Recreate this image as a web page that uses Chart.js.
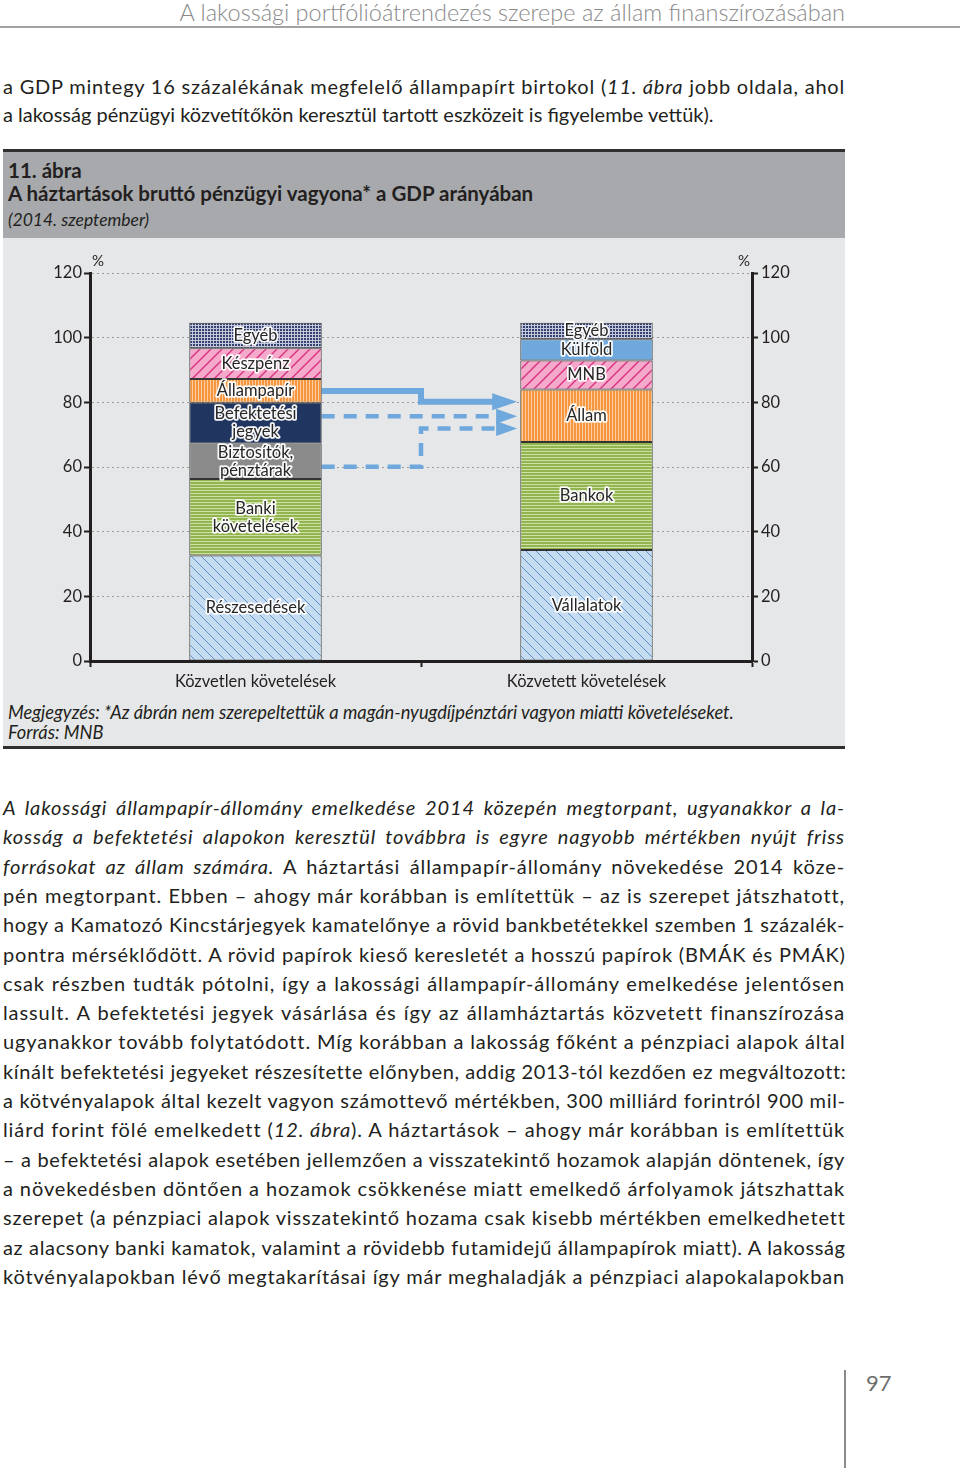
<!DOCTYPE html>
<html lang="hu">
<head>
<meta charset="utf-8">
<title>11. ábra – A háztartások bruttó pénzügyi vagyona</title>
<script src="https://cdn.jsdelivr.net/npm/chart.js@4.4.1/dist/chart.umd.min.js"></script>
<style>
  html, body { margin: 0; padding: 0; background: #fff; }
  body { width: 960px; height: 1468px; position: relative; overflow: hidden;
         font-family: Lato, 'Open Sans', sans-serif; color: #231f20; }
  .runhead { position: absolute; right: 115px; top: -2px; font-size: 23.5px; font-weight: 300;
             color: #8a8a8a; line-height: 28px; white-space: nowrap; }
  .rule { position: absolute; left: 0; width: 960px; top: 26px; height: 2px; background: #a3a3a3; }
  .ln { position: absolute; left: 3px; width: 842px; font-size: 20px; line-height: 29.3px;
        white-space: nowrap; }
  .box-top { position: absolute; left: 3px; width: 842px; top: 149px; height: 3px; background: #2f2f2f; }
  .box-head { position: absolute; left: 3px; width: 842px; top: 152px; height: 86px; background: #a7a9ac; }
  .box-body { position: absolute; left: 3px; width: 842px; top: 238px; height: 508px; background: #e6e7e8; }
  .box-bottom { position: absolute; left: 3px; width: 842px; top: 746px; height: 3px; background: #2f2f2f; }
  .cap { position: absolute; left: 5px; white-space: nowrap; }
  .cap.b { font-weight: 700; font-size: 20.5px; line-height: 24px; }
  .cap.i { font-style: italic; font-size: 17.5px; line-height: 22px; }
  .note { position: absolute; left: 5px; font-style: italic; font-size: 18.3px; line-height: 20px; white-space: nowrap; }
  canvas#chart { position: absolute; left: 0; top: 0; }
  .pageno { position: absolute; left: 866px; top: 1369px; font-size: 22px; color: #6d6d6d; }
  .vrule { position: absolute; left: 844px; top: 1370px; width: 2px; height: 98px; background: #8a8a8a; }
</style>
</head>
<body>
<div class="runhead">A lakossági portfólióátrendezés szerepe az állam finanszírozásában</div>
<div class="rule"></div>

<div class="ln" data-j="1" style="top:72px"><span>a GDP mintegy 16 százalékának megfelelő állampapírt birtokol (<i>11. ábra</i> jobb oldala, ahol</span></div>
<div class="ln" style="top:100px"><span>a lakosság pénzügyi közvetítőkön keresztül tartott eszközeit is figyelembe vettük).</span></div>

<div class="box-top"></div>
<div class="box-head">
  <div class="cap b" style="top:6px">11. ábra</div>
  <div class="cap b" style="top:29px">A háztartások bruttó pénzügyi vagyona* a GDP arányában</div>
  <div class="cap i" style="top:57px">(2014. szeptember)</div>
</div>
<div class="box-body">
  <canvas id="chart" width="842" height="462"></canvas>
  <div class="note" style="top:464px">Megjegyzés: *Az ábrán nem szerepeltettük a magán-nyugdíjpénztári vagyon miatti követeléseket.</div>
  <div class="note" style="top:484px">Forrás: MNB</div>
</div>
<div class="box-bottom"></div>

<div id="p2"></div>

<div class="vrule"></div>
<div class="pageno">97</div>

<script>
// ---- body text (one entry per printed line) ----
const p2Lines = [
  '<i>A lakossági állampapír-állomány emelkedése 2014 közepén megtorpant, ugyanakkor a la-</i>',
  '<i>kosság a befektetési alapokon keresztül továbbra is egyre nagyobb mértékben nyújt friss</i>',
  '<i>forrásokat az állam számára.</i> A háztartási állampapír-állomány növekedése 2014 köze-',
  'pén megtorpant. Ebben – ahogy már korábban is említettük – az is szerepet játszhatott,',
  'hogy a Kamatozó Kincstárjegyek kamatelőnye a rövid bankbetétekkel szemben 1 százalék-',
  'pontra mérséklődött. A rövid papírok kieső keresletét a hosszú papírok (BMÁK és PMÁK)',
  'csak részben tudták pótolni, így a lakossági állampapír-állomány emelkedése jelentősen',
  'lassult. A befektetési jegyek vásárlása és így az államháztartás közvetett finanszírozása',
  'ugyanakkor tovább folytatódott. Míg korábban a lakosság főként a pénzpiaci alapok által',
  'kínált befektetési jegyeket részesítette előnyben, addig 2013-tól kezdően ez megváltozott:',
  'a kötvényalapok által kezelt vagyon számottevő mértékben, 300 milliárd forintról 900 mil-',
  'liárd forint fölé emelkedett (<i>12. ábra</i>). A háztartások – ahogy már korábban is említettük',
  '– a befektetési alapok esetében jellemzően a visszatekintő hozamok alapján döntenek, így',
  'a növekedésben döntően a hozamok csökkenése miatt emelkedő árfolyamok játszhattak',
  'szerepet (a pénzpiaci alapok visszatekintő hozama csak kisebb mértékben emelkedhetett',
  'az alacsony banki kamatok, valamint a rövidebb futamidejű állampapírok miatt). A lakosság',
  'kötvényalapokban lévő megtakarításai így már meghaladják a pénzpiaci alapokalapokban'
];
const p2 = document.getElementById('p2');
p2Lines.forEach((t, i) => {
  const d = document.createElement('div');
  d.className = 'ln';
  d.dataset.j = '1';
  d.style.top = (793 + i * 29.3) + 'px';
  d.innerHTML = '<span>' + t + '</span>';
  p2.appendChild(d);
});
// fit each printed line: squeeze if too long, spread letters then words if justified
document.querySelectorAll('.ln').forEach(el => {
  const sp = el.firstElementChild;
  const w = sp.getBoundingClientRect().width;
  const max = el.clientWidth;
  if (w > max) {
    el.style.width = w + 'px';
    el.style.transformOrigin = 'left top';
    el.style.transform = 'scaleX(' + (max / w) + ')';
  } else if (el.dataset.j) {
    const n = sp.textContent.length;
    const ls = Math.min(0.9, (max - w) / n);
    el.style.letterSpacing = ls + 'px';
    el.style.textAlign = 'justify';
    el.style.textAlignLast = 'justify';
  }
});

// ---- chart data ----
const categories = ['Közvetlen követelések', 'Közvetett követelések'];

const directNames = ['Részesedések', 'Banki\nkövetelések', 'Biztosítók,\npénztárak',
  'Befektetési\njegyek', 'Állampapír', 'Készpénz', 'Egyéb'];
const directValues = [32.6, 23.7, 11.0, 12.6, 7.3, 9.5, 7.9];

const indirectNames = ['Vállalatok', 'Bankok', 'Állam', 'MNB', 'Külföld', 'Egyéb'];
const indirectValues = [34.3, 33.4, 16.3, 8.9, 6.6, 5.1];

// arrows: x in category units (0 = first bar, 1 = second bar), y in % of GDP
const arrowSolidX = [0.2, 0.5, 0.5, 0.718];
const arrowSolidY = [83.5, 83.5, 80.2, 80.2];
const arrowDash1X = [0.2, 0.73];
const arrowDash1Y = [75.7, 75.7];
const arrowDash2X = [0.2, 0.5, 0.5, 0.73];
const arrowDash2Y = [60.1, 60.1, 71.9, 71.9];

// ---- fills ----
function makePattern(w, h, draw) {
  const c = document.createElement('canvas');
  c.width = w; c.height = h;
  const g = c.getContext('2d');
  draw(g, w, h);
  return g.createPattern(c, 'repeat');
}
const hatchBlue = makePattern(10, 10, (g, w, h) => {
  g.fillStyle = '#c6dcf1'; g.fillRect(0, 0, w, h);
  g.strokeStyle = '#5f8fc6'; g.lineWidth = 1;
  g.beginPath();
  g.moveTo(-1, -1); g.lineTo(w + 1, h + 1);
  g.moveTo(-1, h - 1); g.lineTo(1, h + 1);
  g.moveTo(w - 1, -1); g.lineTo(w + 1, 1);
  g.stroke();
});
const greenStripe = makePattern(4, 3, (g, w, h) => {
  g.fillStyle = '#93b54f'; g.fillRect(0, 0, w, h);
  g.fillStyle = '#cde0a6'; g.fillRect(0, 0, w, 1);
});
const orangeStripe = makePattern(3, 4, (g, w, h) => {
  g.fillStyle = '#f6973f'; g.fillRect(0, 0, w, h);
  g.fillStyle = '#fccda0'; g.fillRect(0, 0, 1, h);
});
const pinkHatch = makePattern(11, 11, (g, w, h) => {
  g.fillStyle = '#f5aacb'; g.fillRect(0, 0, w, h);
  g.strokeStyle = '#d8317f'; g.lineWidth = 1.4;
  g.beginPath();
  g.moveTo(-1, h + 1); g.lineTo(w + 1, -1);
  g.moveTo(-1, 1); g.lineTo(1, -1);
  g.moveTo(w - 1, h + 1); g.lineTo(w + 1, h - 1);
  g.stroke();
});
const navyGrid = makePattern(3, 3, (g, w, h) => {
  g.fillStyle = '#34416f'; g.fillRect(0, 0, w, h);
  g.fillStyle = '#c3c8dc'; g.fillRect(0, 0, w, 1); g.fillRect(0, 0, 1, h);
});

const directFill = [hatchBlue, greenStripe, '#8b8b8b', '#213561', orangeStripe, pinkHatch, navyGrid];
const indirectFill = [hatchBlue, greenStripe, orangeStripe, pinkHatch, '#6fa8dc', navyGrid];
const arrowColor = '#6fa8dc';

const barCommon = {
  borderColor: '#333',
  borderWidth: 1,
  borderSkipped: false,
  grouped: false,
  barPercentage: 1,
  categoryPercentage: 0.4
};

const datasets = [];
directValues.forEach((v, i) => {
  datasets.push(Object.assign({ label: directNames[i], data: [v, null], backgroundColor: directFill[i] }, barCommon));
});
indirectValues.forEach((v, i) => {
  datasets.push(Object.assign({ label: indirectNames[i], data: [null, v], backgroundColor: indirectFill[i] }, barCommon));
});

function arrowSet(xs, ys, width, dash, head) {
  return {
    type: 'line',
    label: 'arrow',
    data: xs.map((x, i) => ({ x: x, y: ys[i] })),
    xAxisID: 'xl',
    yAxisID: 'y2',
    borderColor: arrowColor,
    borderWidth: width,
    borderDash: dash,
    borderCapStyle: 'butt',
    borderJoinStyle: 'miter',
    pointRadius: 0,
    fill: false,
    tension: 0,
    arrowHead: head
  };
}
datasets.push(arrowSet(arrowSolidX, arrowSolidY, 6, [], { len: 24, half: 8.5 }));
datasets.push(arrowSet(arrowDash1X, arrowDash1Y, 4.5, [13, 9], { len: 20, half: 7.5 }));
datasets.push(arrowSet(arrowDash2X, arrowDash2Y, 4.5, [13, 9], { len: 20, half: 7.5 }));

const FONT = 'Lato, "Open Sans", sans-serif';

// segment labels, arrow heads and the % signs
const decorPlugin = {
  id: 'decor',
  afterDatasetsDraw(chart) {
    const ctx = chart.ctx;
    ctx.save();
    chart.data.datasets.forEach((ds, i) => {
      const meta = chart.getDatasetMeta(i);
      if (ds.arrowHead) {
        const last = meta.data[meta.data.length - 1];
        ctx.fillStyle = arrowColor;
        ctx.beginPath();
        ctx.moveTo(last.x - 1, last.y - ds.arrowHead.half);
        ctx.lineTo(last.x + ds.arrowHead.len, last.y);
        ctx.lineTo(last.x - 1, last.y + ds.arrowHead.half);
        ctx.closePath();
        ctx.fill();
        return;
      }
      if (meta.type !== 'bar') return;
      meta.data.forEach((el, j) => {
        if (ds.data[j] == null) return;
        const lines = ds.label.split('\n');
        const cy = (el.y + el.base) / 2;
        const lh = 18;
        ctx.font = '16.5px ' + FONT;
        ctx.textAlign = 'center';
        ctx.textBaseline = 'middle';
        ctx.lineJoin = 'round';
        lines.forEach((t, k) => {
          const y = cy + (k - (lines.length - 1) / 2) * lh;
          ctx.lineWidth = 3.5;
          ctx.strokeStyle = 'rgba(255,255,255,0.95)';
          ctx.strokeText(t, el.x, y);
          ctx.fillStyle = '#262626';
          ctx.fillText(t, el.x, y);
        });
      });
    });
    const a = chart.chartArea;
    ctx.font = '15px ' + FONT;
    ctx.fillStyle = '#231f20';
    ctx.textBaseline = 'middle';
    ctx.textAlign = 'left';
    ctx.fillText('%', a.left + 2, a.top - 12);
    ctx.textAlign = 'right';
    ctx.fillText('%', a.right - 2, a.top - 12);
    ctx.restore();
  }
};

const tickFont = { family: FONT, size: 16.5 };

new Chart(document.getElementById('chart'), {
  type: 'bar',
  data: { labels: categories, datasets: datasets },
  options: {
    responsive: false,
    animation: false,
    devicePixelRatio: 1,
    layout: { padding: { top: 35, left: 0, right: 0, bottom: 0 } },
    plugins: { legend: { display: false }, tooltip: { enabled: false } },
    scales: {
      x: {
        stacked: true,
        offset: true,
        grid: { offset: true, drawOnChartArea: false, drawTicks: true, tickLength: 6, tickColor: '#231f20', tickWidth: 2 },
        border: { color: '#231f20', width: 3 },
        ticks: { font: tickFont, color: '#231f20', padding: 5 },
        afterFit: s => { s.height = 39; }
      },
      y: {
        stacked: true,
        position: 'left',
        min: 0, max: 120,
        ticks: { stepSize: 20, font: tickFont, color: '#231f20', padding: 2 },
        grid: { color: '#9d9d9d', lineWidth: 1, tickColor: '#231f20', tickLength: 6, tickWidth: 2 },
        border: { color: '#231f20', width: 3, dash: [2, 3] },
        afterFit: s => { s.width = 87; }
      },
      y1: {
        position: 'right',
        min: 0, max: 120,
        ticks: { stepSize: 20, font: tickFont, color: '#231f20', padding: 3 },
        grid: { drawOnChartArea: false, tickColor: '#231f20', tickLength: 6, tickWidth: 2 },
        border: { color: '#231f20', width: 3 },
        afterFit: s => { s.width = 93; }
      },
      y2: { display: false, min: 0, max: 120 },
      xl: { type: 'linear', display: false, offset: false, grid: { offset: false }, min: -0.5, max: 1.5 }
    }
  },
  plugins: [decorPlugin]
});
</script>
</body>
</html>
